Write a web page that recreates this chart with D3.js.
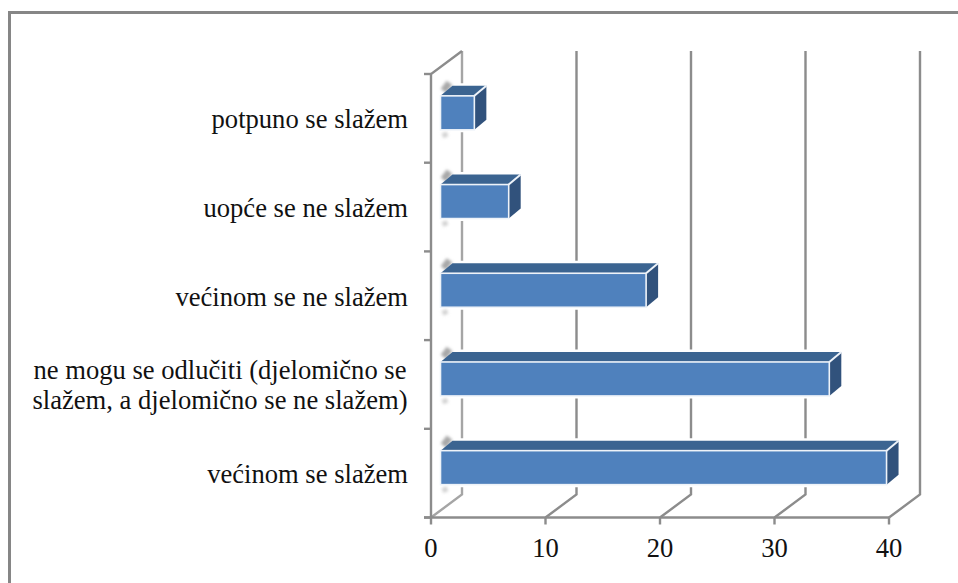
<!DOCTYPE html>
<html><head><meta charset="utf-8">
<script src="https://cdnjs.cloudflare.com/ajax/libs/d3/7.8.5/d3.min.js"></script>
<style>html,body{margin:0;padding:0;background:#fff}svg{display:block}text{font-family:"Liberation Serif",serif;fill:#111}</style>
</head><body><svg id="c" width="958" height="583"></svg>
<script>
const categories = ["većinom se slažem","ne mogu se odlučiti (djelomično se|slažem, a djelomično se ne slažem)","većinom se ne slažem","uopće se ne slažem","potpuno se slažem"];
const values = [39,34,18,6,3];
const xTicks = [0,10,20,30,40];
const svg = d3.select("#c");
const x = d3.scaleLinear().domain([0,40]).range([431,889]);
const y = d3.scaleBand().domain(categories).range([517.5,74]);
const dx=31, dy=-23, bdx=12, bdy=-10, barOff=9.5, barH=34, fs=26.6;
const line="#8c8c8c";
const defs=svg.append("defs");
defs.append("filter").attr("id","b").attr("filterUnits","userSpaceOnUse").attr("x",0).attr("y",0).attr("width",958).attr("height",583).append("feGaussianBlur").attr("stdDeviation",1.8);
// frame
svg.append("path").attr("d","M9.5,583V12.5H958").attr("fill","none").attr("stroke","#868686").attr("stroke-width",3);
const g=svg.append("g").attr("fill","none").attr("stroke",line).attr("stroke-width",2.4);
// back grid + floor diagonals
xTicks.forEach(t=>{
  const X=x(t);
  g.append("path").attr("d",`M${X},517.5L${X+dx},${517.5+dy}V${74+dy}`).attr("stroke",t===0?"#a5a5a5":line);
  g.append("path").attr("d",`M${X},517.5V524.5`);
});
g.append("path").attr("d",`M424,517.5L${x(40)},517.5`);
g.append("path").attr("d",`M431,517.5V74L${431+dx},${74+dy}`);
y.domain().concat([null]).forEach(c=>{
  const Y=c===null?74:y(c)+y.bandwidth();
  g.append("path").attr("d",`M424,${Y}H431`);
});
// bars
const bars=svg.selectAll("g.bar").data(categories).join("g").attr("class","bar");
bars.each(function(c,i){
  const s=d3.select(this), v=values[i];
  const x0=x(0)+barOff, x1=x(v)+barOff-0.5, t=y(c)+y.bandwidth()/2-5.5-barH/2, b=t+barH;
  const outline=`M${x0},${t}L${x0+bdx},${t+bdy}H${x1+bdx}V${b+bdy}L${x1},${b}H${x0}Z`;
  s.append("path").attr("d",outline).attr("fill","#fff").attr("stroke","#fff").attr("stroke-width",5);
  s.append("path").attr("d",`M${x0+3},${t-5}L${x0+9},${t-13}`).attr("fill","none").attr("stroke","#a8a8a8").attr("stroke-width",7).attr("filter","url(#b)");
  s.append("path").attr("d",`M${x0+2},${b+6}L${x0+7},${b+4}`).attr("fill","none").attr("stroke","#d2d2d2").attr("stroke-width",5).attr("filter","url(#b)");
  s.append("path").attr("d",`M${x0},${t}L${x0+bdx},${t+bdy}H${x1+bdx}L${x1},${t}Z`).attr("fill","#3b6491");
  s.append("path").attr("d",`M${x1},${t}L${x1+bdx},${t+bdy}V${b+bdy}L${x1},${b}Z`).attr("fill","#31527c");
  s.append("rect").attr("x",x0).attr("y",t).attr("width",x1-x0).attr("height",barH).attr("fill","#4f81bd").attr("stroke","#eef3f9").attr("stroke-width",1.6);
  s.append("path").attr("d",`M${x1},${t}L${x1+bdx},${t+bdy}`).attr("fill","none").attr("stroke","#eef3f9").attr("stroke-width",2);
});
// labels
categories.forEach(c=>{
  const parts=c.split("|"), cy=y(c)+y.bandwidth()/2;
  if(parts.length===1) svg.append("text").attr("x",408).attr("y",cy+10).attr("text-anchor","end").attr("font-size",fs).text(c);
  else parts.forEach((p,i)=>svg.append("text").attr("x",220).attr("y",cy-5.4+i*30).attr("text-anchor","middle").attr("font-size",fs).text(p));
});
xTicks.forEach(t=>svg.append("text").attr("x",x(t)).attr("y",557).attr("text-anchor","middle").attr("font-size",fs).text(t));
</script></body></html>
